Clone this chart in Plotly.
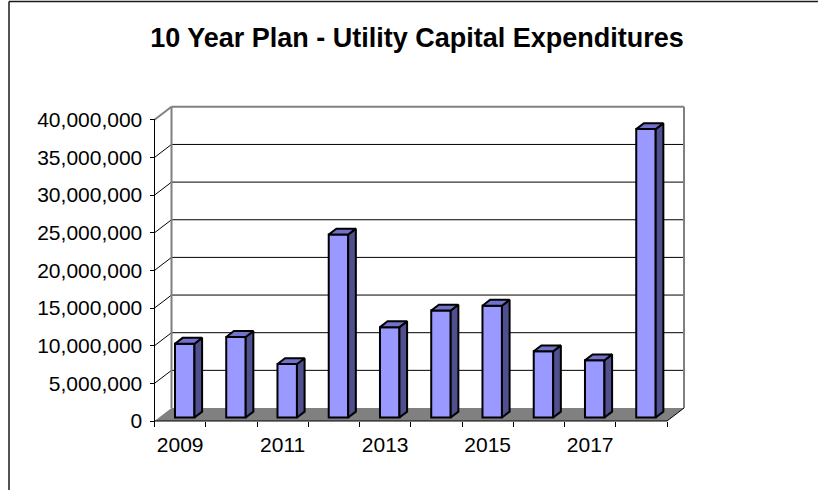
import plotly.graph_objects as go

# ---- data -----------------------------------------------------------------
years = [2009, 2010, 2011, 2012, 2013, 2014, 2015, 2016, 2017, 2018]
spending = [9.8e6, 10.7e6, 7.1e6, 24.3e6, 12.0e6, 14.2e6, 14.85e6, 8.8e6, 7.6e6, 38.3e6]
y_ticks = [0, 5e6, 10e6, 15e6, 20e6, 25e6, 30e6, 35e6, 40e6]
x_labels = [str(y) for y in years[::2]]

TITLE = "10 Year Plan - Utility Capital Expenditures"
FONT = "Liberation Sans, Arial, sans-serif"

# ---- page / plot-area geometry (pixels) -------------------------------------
W, H = 818, 490
M_L, M_R, M_T, M_B = 144, 120, 100, 65
PX_PER_CAT = 51.25          # width of one category slot
PX_PER_UNIT_Y = 7.53e-6     # pixels per currency unit
AXIS_X0_PX = 154.5          # front edge of the category axis
AXIS_Y0_PX = 421            # front edge of the floor (value 0)

plot_w = W - M_L - M_R
plot_h = H - M_T - M_B
x_lo = -(AXIS_X0_PX - M_L) / PX_PER_CAT
x_hi = x_lo + plot_w / PX_PER_CAT
y_lo = -((H - M_B) - AXIS_Y0_PX) / PX_PER_UNIT_Y
y_hi = y_lo + plot_h / PX_PER_UNIT_Y

# oblique depth of the chart box, in data units
DX = 17 / PX_PER_CAT
DY = 13 / PX_PER_UNIT_Y

n = len(years)
y_max = y_ticks[-1]

# ---- bar geometry ---------------------------------------------------------
F0 = 0.27     # depth of the bar front face inside the box
BD = 0.45     # bar depth as a share of the box depth
BW = 0.38     # bar width as a share of a category slot

centers = [i + 0.5 + F0 * DX for i in range(n)]
base = F0 * DY

side_x, side_y, top_x, top_y = [], [], [], []
for c, v in zip(centers, spending):
    xl, xr = c - BW / 2, c + BW / 2
    ddx, ddy = BD * DX, BD * DY
    side_x += [xr, xr + ddx, xr + ddx, xr, xr, None]
    side_y += [base, base + ddy, base + v + ddy, base + v, base, None]
    top_x += [xl, xr, xr + ddx, xl + ddx, xl, None]
    top_y += [base + v, base + v, base + v + ddy, base + v + ddy, base + v, None]

fig = go.Figure()

fig.add_trace(go.Bar(
    x=centers, y=spending, base=base, width=BW,
    marker=dict(color="#9999FF", line=dict(color="black", width=2)),
    hoverinfo="skip",
))
fig.add_trace(go.Scatter(
    x=side_x, y=side_y, mode="lines", fill="toself", fillcolor="#50508F",
    line=dict(color="black", width=2), hoverinfo="skip",
))
fig.add_trace(go.Scatter(
    x=top_x, y=top_y, mode="lines", fill="toself", fillcolor="#7272CC",
    line=dict(color="black", width=2), hoverinfo="skip",
))

# ---- box: floor, walls, gridlines, front axes -----------------------------
shapes = []


def seg(x0, y0, x1, y1, color="black", width=1, ref=("x", "y")):
    shapes.append(dict(type="line", xref=ref[0], yref=ref[1], x0=x0, y0=y0, x1=x1, y1=y1,
                       line=dict(color=color, width=width), layer="below"))


shapes.append(dict(
    type="path", xref="x", yref="y", layer="below",
    path=f"M 0,0 L {n},0 L {n + DX},{DY} L {DX},{DY} Z",
    fillcolor="#808080", line=dict(width=0),
))
for t in y_ticks[1:-1]:
    seg(DX, t + DY, n + DX, t + DY)
    seg(0, t, DX, t + DY)
# outer edges of the walls
seg(0, y_max, DX, y_max + DY, "#808080", 2)
seg(DX, y_max + DY, n + DX, y_max + DY, "#808080", 2)
seg(n + DX, DY, n + DX, y_max + DY, "#808080", 2)
seg(DX, DY, DX, y_max + DY, "#808080", 2)
seg(n, 0, n + DX, DY)
# front axes
seg(0, 0, 0, y_max)
seg(0, 0, n, 0)


def paper_x(px):
    return (px - M_L) / plot_w


def paper_y(py):
    return (H - M_B - py) / plot_h


# chart-area frame (left and top edges fall inside the page)
seg(paper_x(9), paper_y(1.5), paper_x(W), paper_y(1.5), "#1a1a1a", 1.5, ("paper", "paper"))
seg(paper_x(9), paper_y(1.5), paper_x(9), paper_y(H), "#1a1a1a", 1.5, ("paper", "paper"))

tick_font = dict(family=FONT, size=21, color="black")

fig.update_layout(
    width=W, height=H, autosize=False,
    template="none",
    margin=dict(l=M_L, r=M_R, t=M_T, b=M_B, pad=0),
    paper_bgcolor="white", plot_bgcolor="rgba(0,0,0,0)",
    showlegend=False,
    shapes=shapes,
    title=dict(
        text=TITLE, x=417 / W, xref="container", xanchor="center",
        y=1 - 38 / H, yref="container", yanchor="middle",
        font=dict(family=FONT, size=27, color="black", weight="bold"),
    ),
    xaxis=dict(
        range=[x_lo, x_hi], domain=[0, 1], anchor="free",
        position=(0 - y_lo) / (y_hi - y_lo),
        tickmode="array", tickvals=[i + 0.5 for i in range(0, n, 2)], ticktext=x_labels,
        ticks="", showgrid=False, zeroline=False, showline=False,
        tickfont=tick_font, ticklabelstandoff=9, automargin=False, fixedrange=True,
        minor=dict(tickmode="array", tickvals=list(range(n + 1)), ticks="outside",
                   ticklen=5, tickcolor="black", tickwidth=1, showgrid=False),
    ),
    yaxis=dict(
        range=[y_lo, y_hi], domain=[0, 1], anchor="free",
        position=(0 - x_lo) / (x_hi - x_lo),
        tickmode="array", tickvals=y_ticks, tickformat=",",
        ticks="outside", ticklen=5, tickcolor="black", tickwidth=1,
        ticklabelstandoff=3,
        showgrid=False, zeroline=False, showline=False,
        tickfont=tick_font, automargin=False, fixedrange=True,
    ),
)

fig.write_html("out.html", config={"displayModeBar": False})
